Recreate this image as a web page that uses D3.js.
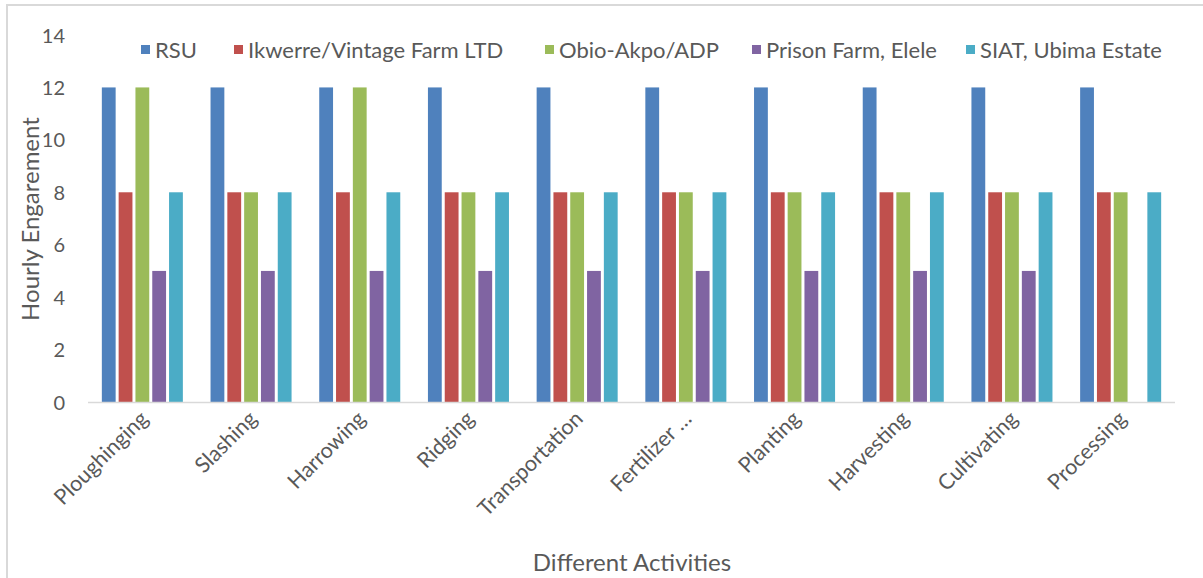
<!DOCTYPE html>
<html>
<head>
<meta charset="utf-8">
<script src="https://cdn.jsdelivr.net/npm/d3@7/dist/d3.min.js"></script>
<style>
  html, body { margin: 0; padding: 0; background: #fff; }
  svg { display: block; }
  text { font-family: Lato, "Open Sans", sans-serif; fill: #595959; }
</style>
</head>
<body>
<svg id="chart" width="1203" height="578"></svg>
<script>
// Activities on the category axis
const activities = ["Ploughinging", "Slashing", "Harrowing", "Ridging", "Transportation",
  "Fertilizer …", "Planting", "Harvesting", "Cultivating", "Processing"];

// Hourly engagement per farm, one value per activity (null = no bar)
const rsu      = [12, 12, 12, 12, 12, 12, 12, 12, 12, 12];
const ikwerre  = [8, 8, 8, 8, 8, 8, 8, 8, 8, 8];
const obioAkpo = [12, 8, 12, 8, 8, 8, 8, 8, 8, 8];
const prison   = [5, 5, 5, 5, 5, 5, 5, 5, 5, null];
const siat     = [8, 8, 8, 8, 8, 8, 8, 8, 8, 8];

const seriesNames = ["RSU", "Ikwerre/Vintage Farm LTD", "Obio-Akpo/ADP", "Prison Farm, Elele", "SIAT, Ubima Estate"];
const seriesColors = ["#4F81BD", "#C0504D", "#9BBB59", "#8064A2", "#4BACC6"];
const yTicks = [0, 2, 4, 6, 8, 10, 12, 14];

const seriesValues = [rsu, ikwerre, obioAkpo, prison, siat];

const svg = d3.select("#chart");
const W = 1203, H = 578;

// Chart frame (top and left edges visible)
svg.append("path")
  .attr("d", `M7,${H} V5 H${W}`)
  .attr("fill", "none")
  .attr("stroke", "#d9d9d9")
  .attr("stroke-width", 2);

const plot = { left: 88, right: 1175, top: 35, bottom: 402 };

const x = d3.scaleBand()
  .domain(activities)
  .range([plot.left, plot.right])
  .paddingInner(0.227)
  .paddingOuter(0.1135);

const xs = d3.scaleBand()
  .domain(seriesNames)
  .range([0, x.bandwidth()])
  .padding(0);

const y = d3.scaleLinear()
  .domain([0, 14])
  .range([plot.bottom, plot.top]);

// Y tick labels (no axis line, no gridlines)
const yAxis = d3.axisLeft(y).tickValues(yTicks).tickSize(0).tickPadding(0);
const gy = svg.append("g")
  .attr("transform", `translate(65,0)`)
  .call(yAxis);
gy.select(".domain").remove();
gy.selectAll("text")
  .style("font-family", "Lato, sans-serif")
  .style("font-size", "20px")
  .attr("fill", "#595959")
  .attr("dy", "0.35em");

// Bars
const groups = svg.append("g").selectAll("g")
  .data(activities)
  .join("g")
  .attr("transform", d => `translate(${x(d)},0)`);

groups.selectAll("rect")
  .data((d, i) => seriesNames.map((s, k) => ({ s, k, v: seriesValues[k][i] })).filter(e => e.v != null))
  .join("rect")
  .attr("x", e => xs(e.s) + 1.5)
  .attr("width", xs.bandwidth() - 3)
  .attr("y", e => y(e.v))
  .attr("height", e => y(0) - y(e.v))
  .attr("fill", e => seriesColors[e.k]);

// Category axis
const xAxis = d3.axisBottom(x).tickSize(0).tickPadding(0);
const gx = svg.append("g")
  .attr("transform", `translate(0,${plot.bottom})`)
  .call(xAxis);
gx.select(".domain")
  .attr("stroke", "#d9d9d9")
  .attr("stroke-width", 1.5)
  .attr("d", `M${plot.left},0.5H${plot.right}`);
gx.selectAll(".tick text")
  .style("font-family", "Lato, sans-serif")
  .style("font-size", "21.5px")
  .attr("fill", "#595959")
  .attr("text-anchor", "end")
  .attr("y", 0)
  .attr("dy", 0)
  .attr("transform", "translate(7,18) rotate(-45)");

// Axis titles
svg.append("text")
  .attr("transform", `translate(39,219) rotate(-90)`)
  .attr("text-anchor", "middle")
  .style("font-size", "24px")
  .text("Hourly Engarement");

svg.append("text")
  .attr("x", 632)
  .attr("y", 571)
  .attr("text-anchor", "middle")
  .style("font-size", "24px")
  .text("Different Activities");

// Legend: square + label at fixed horizontal slots
const legendX = [141, 234, 545, 752, 966];
const legend = svg.append("g").attr("transform", "translate(0,50)");
seriesNames.forEach((name, k) => {
  const g = legend.append("g").attr("transform", `translate(${legendX[k]},0)`);
  g.append("rect")
    .attr("x", 0).attr("y", -5)
    .attr("width", 9).attr("height", 9)
    .attr("fill", seriesColors[k]);
  g.append("text")
    .attr("x", 14)
    .attr("dy", "0.35em")
    .style("font-family", "Lato, sans-serif")
    .style("font-size", "22px")
    .text(name);
});
</script>
</body>
</html>
